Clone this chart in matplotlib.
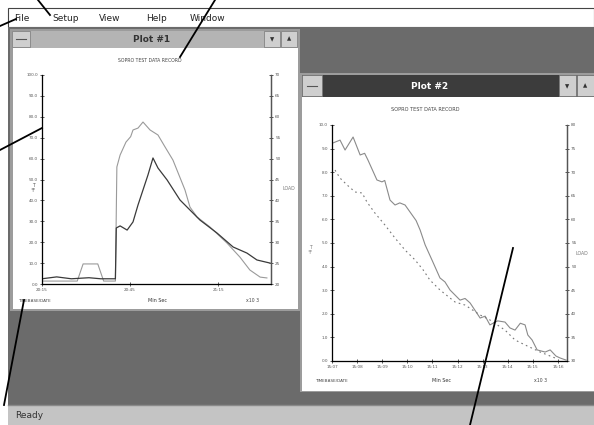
'''
Screenshot style figure: two plot windows of the test data recorder
'''
import matplotlib
matplotlib.use('Agg')
import matplotlib.pyplot as plt
from matplotlib.patches import Rectangle

W, H = 594, 425

# plot #1 data (minutes after 20:15, percent of scale)
p1_upper_t = [0, 6, 12, 14, 19, 21, 24, 25, 25.5, 26.6, 28.6, 30.2, 31.0, 32.7, 34.4,
              36.8, 39.5, 41.9, 44.6, 48.7, 50.4, 52.8, 57.2, 63.0, 67.4, 70.8, 74.3, 76.6]
p1_upper_v = [1.4, 1.4, 1.4, 9.6, 9.6, 1.4, 1.4, 1.4, 56.0, 61.7, 67.9, 70.5, 73.7, 74.6, 77.5,
              73.7, 71.3, 65.6, 59.3, 45.0, 36.8, 32.1, 27.3, 19.6, 12.9, 6.7, 3.3, 2.9]
p1_lower_t = [0, 5, 10, 16, 20, 25, 25.3, 26.6, 29.0, 31.0, 32.7, 34.4, 36.1, 37.8,
              39.5, 42.6, 47.0, 53.8, 59.6, 65.1, 69.8, 73.2, 77.7]
p1_lower_v = [2.5, 3.4, 2.5, 3.0, 2.5, 2.5, 26.8, 27.8, 25.8, 29.7, 37.8, 45.0, 52.2, 60.3,
              55.5, 49.8, 40.2, 30.6, 24.4, 17.7, 14.8, 11.5, 10.0]
p1_left_ticks = [0, 10, 20, 30, 40, 50, 60, 70, 80, 90, 100]
p1_right_ticks = [20, 25, 30, 35, 40, 45, 50, 55, 60, 65, 70]
p1_x_ticks = [0, 30, 60]
p1_x_labels = ['20:15', '20:45', '21:15']

# plot #2 data (minutes after 15:07)
p2_solid_t = [0.04, 0.32, 0.52, 0.84, 1.12, 1.30, 1.43, 1.79, 1.99, 2.10, 2.31, 2.51, 2.70,
              2.91, 3.19, 3.35, 3.51, 3.71, 4.02, 4.30, 4.50, 4.70, 5.10, 5.30, 5.50, 5.90,
              6.10, 6.29, 6.60, 6.89, 7.09, 7.29, 7.50, 7.69, 7.80, 7.97, 8.17, 8.49, 8.69,
              8.92, 9.08, 9.32]
p2_solid_v = [9.24, 9.36, 8.94, 9.49, 8.73, 8.80, 8.52, 7.67, 7.59, 7.65, 6.82, 6.61, 6.70,
              6.61, 6.19, 5.95, 5.55, 4.92, 4.19, 3.52, 3.35, 3.01, 2.58, 2.65, 2.46, 1.82,
              1.90, 1.53, 1.70, 1.65, 1.40, 1.31, 1.60, 1.53, 1.10, 0.89, 0.47, 0.38, 0.47,
              0.21, 0.13, 0.04]
p2_dash_t = [0.12, 0.32, 0.60, 0.92, 1.20, 1.39, 1.71, 2.11, 2.51, 2.91, 3.31, 3.63, 3.90,
             4.30, 4.90, 5.30, 5.90, 6.29, 6.89, 7.29, 7.69, 8.29, 8.88]
p2_dash_v = [8.09, 7.75, 7.46, 7.16, 7.12, 6.74, 6.27, 5.76, 5.21, 4.70, 4.28, 3.86, 3.43,
             3.01, 2.50, 2.37, 1.95, 1.74, 1.31, 0.89, 0.68, 0.38, 0.13]
p2_left_ticks = [0, 1, 2, 3, 4, 5, 6, 7, 8, 9, 10]
p2_right_ticks = [30, 35, 40, 45, 50, 55, 60, 65, 70, 75, 80]
p2_x_ticks = [0, 1, 2, 3, 4, 5, 6, 7, 8, 9]
p2_x_labels = ['15:07', '15:08', '15:09', '15:10', '15:11', '15:12', '15:13', '15:14',
               '15:15', '15:16']

menu_items = ['File', 'Setup', 'View', 'Help', 'Window']
menu_x = [14, 52, 99, 146, 190]


def rect(ax, x, y, w, h, color, z=1, ec='none', lw=0):
    ax.add_patch(Rectangle((x, y), w, h, facecolor=color, edgecolor=ec, lw=lw, zorder=z))


def fax(x0, y0, x1, y1):
    # figure fraction box from pixel corners
    return [x0 / W, 1 - y1 / H, (x1 - x0) / W, (y1 - y0) / H]


def style_plot(ax, left_ticks, right_ticks, xt, xl, xlim, ylim, fs):
    ax.set_xlim(*xlim)
    ax.set_ylim(*ylim)
    ax.spines['top'].set_visible(False)
    for s in ['left', 'right', 'bottom']:
        ax.spines[s].set_color('#555555')
        ax.spines[s].set_linewidth(0.9)
    ax.set_yticks(left_ticks)
    ax.set_yticklabels(['%.1f' % v for v in left_ticks])
    ax.set_xticks(xt)
    ax.set_xticklabels(xl)
    ax.tick_params(direction='inout', length=3, width=0.7, colors='#555555',
                   labelsize=fs, pad=1.5)
    ax2 = ax.twinx()
    ax2.set_ylim(*ylim)
    ax2.spines['top'].set_visible(False)
    ax2.spines['right'].set_color('#555555')
    ax2.spines['right'].set_linewidth(0.9)
    rt = [ylim[0] + (ylim[1] - ylim[0]) * i / 10 for i in range(11)]
    ax2.set_yticks(rt)
    ax2.set_yticklabels([str(v) for v in right_ticks])
    ax2.tick_params(direction='inout', length=3, width=0.7, colors='#555555',
                    labelsize=fs, pad=1.5)
    return ax2


fig = plt.figure(figsize=(W / 100, H / 100), dpi=100)
bg = fig.add_axes([0, 0, 1, 1])
bg.set_xlim(0, W)
bg.set_ylim(H, 0)
bg.axis('off')

# application frame, menu bar, MDI area, status bar
rect(bg, 0, 0, W, H, 'white', 0)
rect(bg, 8, 8, W - 8, 19, 'white', 1, ec='#444444', lw=0.8)
rect(bg, 8, 27, W - 8, 378, '#6b6b6b', 1)
rect(bg, 8, 405, W - 8, 20, '#c4c4c4', 1)
bg.plot([8, W], [405, 405], color='#8a8a8a', lw=1, zorder=2)
for name, x in zip(menu_items, menu_x):
    bg.text(x, 18, name, fontsize=6.5, color='#222222', va='center', zorder=3)
bg.text(15, 415, 'Ready', fontsize=6.5, color='#333333', va='center', zorder=3)

# plot #1 window
rect(bg, 10, 29, 290, 282, '#9c9c9c', 2)
rect(bg, 12, 31, 286, 17, '#b4b4b4', 3)
rect(bg, 12, 31, 18, 16, '#cfcfcf', 4, ec='#777777', lw=0.5)
rect(bg, 264, 31, 16, 16, '#cfcfcf', 4, ec='#777777', lw=0.5)
rect(bg, 281, 31, 16, 16, '#cfcfcf', 4, ec='#777777', lw=0.5)
bg.plot([16, 26], [39, 39], color='#555555', lw=0.8, zorder=5)
bg.text(272, 39.5, '▼', fontsize=4, ha='center', va='center', color='#333333', zorder=5)
bg.text(289, 39, '▲', fontsize=4, ha='center', va='center', color='#333333', zorder=5)
bg.text(152, 39, 'Plot #1', fontsize=6.5, ha='center', va='center', color='#333333',
        fontweight='bold', zorder=5)
rect(bg, 13, 48, 285, 261, 'white', 3)
bg.text(150, 60, 'SOPRO TEST DATA RECORD', fontsize=3.3, ha='center', va='center',
        color='#444444', zorder=5)
bg.text(33, 188, 'T\n°F', fontsize=3.3, ha='center', va='center', color='#555555', zorder=5)
bg.text(289, 188, 'LOAD', fontsize=3.3, ha='center', va='center', color='#777777', zorder=5)
bg.text(18, 301, 'TIMEBASE/DATE', fontsize=3, color='#444444', va='center', zorder=5)
bg.text(157, 300, 'Min Sec', fontsize=3.5, ha='center', va='center', color='#333333', zorder=5)
bg.text(252, 300, 'x10 3', fontsize=3.3, ha='center', va='center', color='#444444', zorder=5)

# plot #2 window
rect(bg, 300, 73, 294, 319, '#9c9c9c', 6)
rect(bg, 302, 75, 292, 22, '#3c3c3c', 7)
rect(bg, 302, 75, 20, 21, '#cfcfcf', 8, ec='#777777', lw=0.5)
rect(bg, 559, 75, 17, 21, '#cfcfcf', 8, ec='#777777', lw=0.5)
rect(bg, 577, 75, 17, 21, '#cfcfcf', 8, ec='#777777', lw=0.5)
bg.plot([307, 317], [86, 86], color='#555555', lw=0.8, zorder=9)
bg.text(567.5, 86.5, '▼', fontsize=4, ha='center', va='center', color='#333333', zorder=9)
bg.text(585.5, 86, '▲', fontsize=4, ha='center', va='center', color='#333333', zorder=9)
bg.text(430, 86, 'Plot #2', fontsize=6.5, ha='center', va='center', color='white',
        fontweight='bold', zorder=9)
rect(bg, 302, 97, 292, 294, 'white', 7)
bg.text(425, 109, 'SOPRO TEST DATA RECORD', fontsize=3.6, ha='center', va='center',
        color='#444444', zorder=9)
bg.text(310, 250, 'T\n°F', fontsize=3.3, ha='center', va='center', color='#777777', zorder=9)
bg.text(582, 253, 'LOAD', fontsize=3.3, ha='center', va='center', color='#777777', zorder=9)
bg.text(315, 381, 'TIMEBASE/DATE', fontsize=3, color='#444444', va='center', zorder=9)
bg.text(441, 380, 'Min Sec', fontsize=3.5, ha='center', va='center', color='#333333', zorder=9)
bg.text(540, 380, 'x10 3', fontsize=3.3, ha='center', va='center', color='#444444', zorder=9)

# plot #1 axes
ax1 = fig.add_axes(fax(42, 75, 271, 284))
ax1.patch.set_alpha(0)
ax1.plot(p1_upper_t, p1_upper_v, color='#9a9a9a', lw=0.8)
ax1.plot(p1_lower_t, p1_lower_v, color='#3a3a3a', lw=0.9)
style_plot(ax1, p1_left_ticks, p1_right_ticks, p1_x_ticks, p1_x_labels,
           (0, 78), (0, 100), 3)

# plot #2 axes
ax2 = fig.add_axes(fax(332, 125, 567, 361))
ax2.patch.set_alpha(0)
ax2.plot(p2_solid_t, p2_solid_v, color='#8a8a8a', lw=0.8)
ax2.plot(p2_dash_t, p2_dash_v, color='#777777', lw=0.8, ls=(0, (1.5, 3)))
style_plot(ax2, p2_left_ticks, p2_right_ticks, p2_x_ticks, p2_x_labels,
           (0, 9.36), (0, 10), 3)

# reference callout lines
top = fig.add_axes([0, 0, 1, 1])
top.set_xlim(0, W)
top.set_ylim(H, 0)
top.axis('off')
top.patch.set_alpha(0)
callouts = [((38, 0), (50, 15)), ((215, 0), (180, 57)), ((0, 26), (16, 19)),
            ((0, 150), (42, 128)), ((24, 300), (4, 405)), ((513, 248), (470, 425))]
for (xa, ya), (xb, yb) in callouts:
    top.plot([xa, xb], [ya, yb], color='black', lw=1.3)

fig.savefig('out.png', dpi=100)
